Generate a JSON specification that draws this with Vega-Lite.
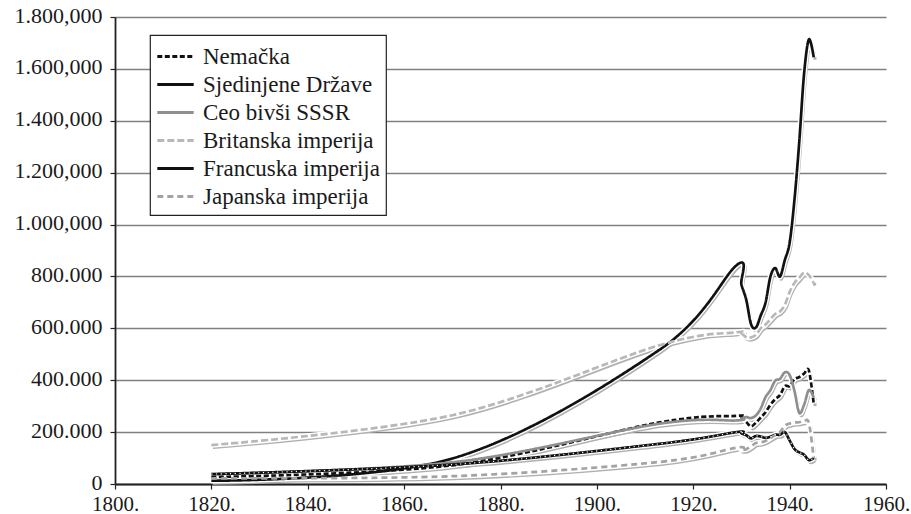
{
  "$schema": "https://vega.github.io/schema/vega-lite/v6.json",
  "width": 771,
  "height": 467,
  "autosize": {"type": "none"},
  "padding": {"left": 115, "top": 17, "right": 25, "bottom": 30},
  "background": "white",
  "config": {
    "view": {"stroke": null},
    "font": "Liberation Serif",
    "legend": {
      "orient": "none",
      "legendX": 35,
      "legendY": 18,
      "title": null,
      "strokeColor": "#222222",
      "strokeWidth": 1.2,
      "fillColor": "white",
      "padding": 6,
      "symbolType": "M-1.3,0H1.3",
      "symbolSize": 784,
      "symbolStrokeWidth": 3,
      "symbolOffset": 4,
      "labelFont": "Liberation Serif",
      "labelFontSize": 23,
      "labelColor": "#1a1a1a",
      "labelOffset": 12,
      "labelLimit": 400,
      "rowPadding": 0
    }
  },
  "data": {
    "values": [
      {"series": "Nemačka", "year": 1820, "gdp": 26800},
      {"series": "Nemačka", "year": 1870, "gdp": 72100},
      {"series": "Nemačka", "year": 1913, "gdp": 237300},
      {"series": "Nemačka", "year": 1929, "gdp": 262700},
      {"series": "Nemačka", "year": 1930, "gdp": 258600},
      {"series": "Nemačka", "year": 1931, "gdp": 238900},
      {"series": "Nemačka", "year": 1932, "gdp": 222000},
      {"series": "Nemačka", "year": 1933, "gdp": 236500},
      {"series": "Nemačka", "year": 1934, "gdp": 256300},
      {"series": "Nemačka", "year": 1935, "gdp": 276500},
      {"series": "Nemačka", "year": 1936, "gdp": 304800},
      {"series": "Nemačka", "year": 1937, "gdp": 326500},
      {"series": "Nemačka", "year": 1938, "gdp": 342400},
      {"series": "Nemačka", "year": 1939, "gdp": 377100},
      {"series": "Nemačka", "year": 1940, "gdp": 377300},
      {"series": "Nemačka", "year": 1941, "gdp": 404000},
      {"series": "Nemačka", "year": 1942, "gdp": 411900},
      {"series": "Nemačka", "year": 1943, "gdp": 425300},
      {"series": "Nemačka", "year": 1944, "gdp": 437000},
      {"series": "Nemačka", "year": 1945, "gdp": 310000},
      {"series": "Sjedinjene Države", "year": 1820, "gdp": 12500},
      {"series": "Sjedinjene Države", "year": 1870, "gdp": 98400},
      {"series": "Sjedinjene Države", "year": 1913, "gdp": 517400},
      {"series": "Sjedinjene Države", "year": 1929, "gdp": 843300},
      {"series": "Sjedinjene Države", "year": 1930, "gdp": 768300},
      {"series": "Sjedinjene Države", "year": 1931, "gdp": 709800},
      {"series": "Sjedinjene Države", "year": 1932, "gdp": 615700},
      {"series": "Sjedinjene Države", "year": 1933, "gdp": 602800},
      {"series": "Sjedinjene Države", "year": 1934, "gdp": 649300},
      {"series": "Sjedinjene Države", "year": 1935, "gdp": 699000},
      {"series": "Sjedinjene Države", "year": 1936, "gdp": 798300},
      {"series": "Sjedinjene Države", "year": 1937, "gdp": 832500},
      {"series": "Sjedinjene Države", "year": 1938, "gdp": 799400},
      {"series": "Sjedinjene Države", "year": 1939, "gdp": 863000},
      {"series": "Sjedinjene Države", "year": 1940, "gdp": 929700},
      {"series": "Sjedinjene Države", "year": 1941, "gdp": 1094700},
      {"series": "Sjedinjene Države", "year": 1942, "gdp": 1318800},
      {"series": "Sjedinjene Države", "year": 1943, "gdp": 1581100},
      {"series": "Sjedinjene Države", "year": 1944, "gdp": 1713600},
      {"series": "Sjedinjene Države", "year": 1945, "gdp": 1644800},
      {"series": "Ceo bivši SSSR", "year": 1820, "gdp": 37700},
      {"series": "Ceo bivši SSSR", "year": 1870, "gdp": 83600},
      {"series": "Ceo bivši SSSR", "year": 1913, "gdp": 232400},
      {"series": "Ceo bivši SSSR", "year": 1929, "gdp": 245000},
      {"series": "Ceo bivši SSSR", "year": 1930, "gdp": 252300},
      {"series": "Ceo bivši SSSR", "year": 1931, "gdp": 257600},
      {"series": "Ceo bivši SSSR", "year": 1932, "gdp": 254400},
      {"series": "Ceo bivši SSSR", "year": 1933, "gdp": 264000},
      {"series": "Ceo bivši SSSR", "year": 1934, "gdp": 290900},
      {"series": "Ceo bivši SSSR", "year": 1935, "gdp": 334800},
      {"series": "Ceo bivši SSSR", "year": 1936, "gdp": 361300},
      {"series": "Ceo bivši SSSR", "year": 1937, "gdp": 398000},
      {"series": "Ceo bivši SSSR", "year": 1938, "gdp": 405200},
      {"series": "Ceo bivši SSSR", "year": 1939, "gdp": 430300},
      {"series": "Ceo bivši SSSR", "year": 1940, "gdp": 420100},
      {"series": "Ceo bivši SSSR", "year": 1941, "gdp": 359000},
      {"series": "Ceo bivši SSSR", "year": 1942, "gdp": 274200},
      {"series": "Ceo bivši SSSR", "year": 1943, "gdp": 305200},
      {"series": "Ceo bivši SSSR", "year": 1944, "gdp": 362200},
      {"series": "Ceo bivši SSSR", "year": 1945, "gdp": 333700},
      {"series": "Britanska imperija", "year": 1820, "gdp": 150000},
      {"series": "Britanska imperija", "year": 1870, "gdp": 265000},
      {"series": "Britanska imperija", "year": 1913, "gdp": 535000},
      {"series": "Britanska imperija", "year": 1929, "gdp": 585000},
      {"series": "Britanska imperija", "year": 1930, "gdp": 580000},
      {"series": "Britanska imperija", "year": 1931, "gdp": 566000},
      {"series": "Britanska imperija", "year": 1932, "gdp": 565000},
      {"series": "Britanska imperija", "year": 1933, "gdp": 575000},
      {"series": "Britanska imperija", "year": 1934, "gdp": 600000},
      {"series": "Britanska imperija", "year": 1935, "gdp": 615000},
      {"series": "Britanska imperija", "year": 1936, "gdp": 635000},
      {"series": "Britanska imperija", "year": 1937, "gdp": 655000},
      {"series": "Britanska imperija", "year": 1938, "gdp": 665000},
      {"series": "Britanska imperija", "year": 1939, "gdp": 690000},
      {"series": "Britanska imperija", "year": 1940, "gdp": 740000},
      {"series": "Britanska imperija", "year": 1941, "gdp": 775000},
      {"series": "Britanska imperija", "year": 1942, "gdp": 795000},
      {"series": "Britanska imperija", "year": 1943, "gdp": 815000},
      {"series": "Britanska imperija", "year": 1944, "gdp": 805000},
      {"series": "Britanska imperija", "year": 1945, "gdp": 775000},
      {"series": "Francuska imperija", "year": 1820, "gdp": 38000},
      {"series": "Francuska imperija", "year": 1870, "gdp": 75000},
      {"series": "Francuska imperija", "year": 1913, "gdp": 155000},
      {"series": "Francuska imperija", "year": 1929, "gdp": 200000},
      {"series": "Francuska imperija", "year": 1930, "gdp": 195000},
      {"series": "Francuska imperija", "year": 1931, "gdp": 188000},
      {"series": "Francuska imperija", "year": 1932, "gdp": 176000},
      {"series": "Francuska imperija", "year": 1933, "gdp": 185000},
      {"series": "Francuska imperija", "year": 1934, "gdp": 183000},
      {"series": "Francuska imperija", "year": 1935, "gdp": 178000},
      {"series": "Francuska imperija", "year": 1936, "gdp": 182000},
      {"series": "Francuska imperija", "year": 1937, "gdp": 190000},
      {"series": "Francuska imperija", "year": 1938, "gdp": 190000},
      {"series": "Francuska imperija", "year": 1939, "gdp": 200000},
      {"series": "Francuska imperija", "year": 1940, "gdp": 168000},
      {"series": "Francuska imperija", "year": 1941, "gdp": 135000},
      {"series": "Francuska imperija", "year": 1942, "gdp": 122000},
      {"series": "Francuska imperija", "year": 1943, "gdp": 113000},
      {"series": "Francuska imperija", "year": 1944, "gdp": 92000},
      {"series": "Francuska imperija", "year": 1945, "gdp": 100000},
      {"series": "Japanska imperija", "year": 1820, "gdp": 22000},
      {"series": "Japanska imperija", "year": 1870, "gdp": 30000},
      {"series": "Japanska imperija", "year": 1913, "gdp": 85000},
      {"series": "Japanska imperija", "year": 1929, "gdp": 140000},
      {"series": "Japanska imperija", "year": 1930, "gdp": 132000},
      {"series": "Japanska imperija", "year": 1931, "gdp": 134000},
      {"series": "Japanska imperija", "year": 1932, "gdp": 145000},
      {"series": "Japanska imperija", "year": 1933, "gdp": 158000},
      {"series": "Japanska imperija", "year": 1934, "gdp": 160000},
      {"series": "Japanska imperija", "year": 1935, "gdp": 166000},
      {"series": "Japanska imperija", "year": 1936, "gdp": 177000},
      {"series": "Japanska imperija", "year": 1937, "gdp": 188000},
      {"series": "Japanska imperija", "year": 1938, "gdp": 200000},
      {"series": "Japanska imperija", "year": 1939, "gdp": 225000},
      {"series": "Japanska imperija", "year": 1940, "gdp": 233000},
      {"series": "Japanska imperija", "year": 1941, "gdp": 237000},
      {"series": "Japanska imperija", "year": 1942, "gdp": 238000},
      {"series": "Japanska imperija", "year": 1943, "gdp": 242000},
      {"series": "Japanska imperija", "year": 1944, "gdp": 235000},
      {"series": "Japanska imperija", "year": 1945, "gdp": 100000}
    ]
  },
  "encoding": {
    "x": {
      "field": "year",
      "type": "quantitative",
      "scale": {"domain": [1800, 1960], "nice": false, "zero": false},
      "axis": {
        "title": null,
        "values": [1800, 1820, 1840, 1860, 1880, 1900, 1920, 1940, 1960],
        "labelExpr": "datum.value + '.'",
        "grid": false,
        "domainColor": "#222222",
        "domainWidth": 1.8,
        "tickColor": "#222222",
        "tickSize": 5,
        "tickWidth": 1.2,
        "labelFont": "Liberation Serif",
        "labelFontSize": 21,
        "labelColor": "#1a1a1a",
        "labelPadding": 4,
        "labelFlush": false
      }
    },
    "y": {
      "field": "gdp",
      "type": "quantitative",
      "scale": {"domain": [0, 1800000], "nice": false},
      "axis": {
        "title": null,
        "values": [0, 200000, 400000, 600000, 800000, 1000000, 1200000, 1400000, 1600000, 1800000],
        "labelExpr": "datum.value == 0 ? '0' : datum.value >= 1000000 ? format(floor(datum.value / 1000000), 'd') + '.' + format((datum.value % 1000000) / 1000, '03d') + ',000' : format(datum.value / 1000, 'd') + '.000'",
        "grid": true,
        "gridColor": "#808080",
        "gridWidth": 1.5,
        "domainColor": "#222222",
        "domainWidth": 1.8,
        "tickColor": "#222222",
        "tickSize": 5,
        "tickWidth": 1.2,
        "labelFont": "Liberation Serif",
        "labelFontSize": 22,
        "labelColor": "#1a1a1a",
        "labelPadding": 8,
        "labelOffset": -2
      }
    }
  },
  "layer": [
    {
      "mark": {"type": "line", "interpolate": "cardinal", "stroke": "#b0b0b0", "strokeWidth": 3, "xOffset": 1.5, "yOffset": 2.5},
      "encoding": {"detail": {"field": "series"}}
    },
    {
      "mark": {"type": "line", "interpolate": "cardinal", "stroke": "white", "strokeWidth": 5.5},
      "encoding": {"detail": {"field": "series"}}
    },
    {
      "mark": {"type": "line", "interpolate": "cardinal", "strokeWidth": 2.7},
      "encoding": {
        "color": {
          "field": "series",
          "type": "nominal",
          "scale": {
            "domain": ["Nemačka", "Sjedinjene Države", "Ceo bivši SSSR", "Britanska imperija", "Francuska imperija", "Japanska imperija"],
            "range": ["#111111", "#111111", "#8f8f8f", "#b8b8b8", "#111111", "#a3a3a3"]
          }
        },
        "strokeDash": {
          "field": "series",
          "type": "nominal",
          "scale": {
            "domain": ["Nemačka", "Sjedinjene Države", "Ceo bivši SSSR", "Britanska imperija", "Francuska imperija", "Japanska imperija"],
            "range": [[5, 2.5], [1, 0], [1, 0], [7, 3], [1, 0], [6, 4]]
          }
        }
      }
    },
    {
      "transform": [{"filter": "datum.series == 'Francuska imperija'"}],
      "mark": {"type": "line", "interpolate": "cardinal", "stroke": "white", "strokeWidth": 1.2, "strokeDash": [1.2, 3.5]},
      "encoding": {"detail": {"field": "series"}}
    }
  ]
}
